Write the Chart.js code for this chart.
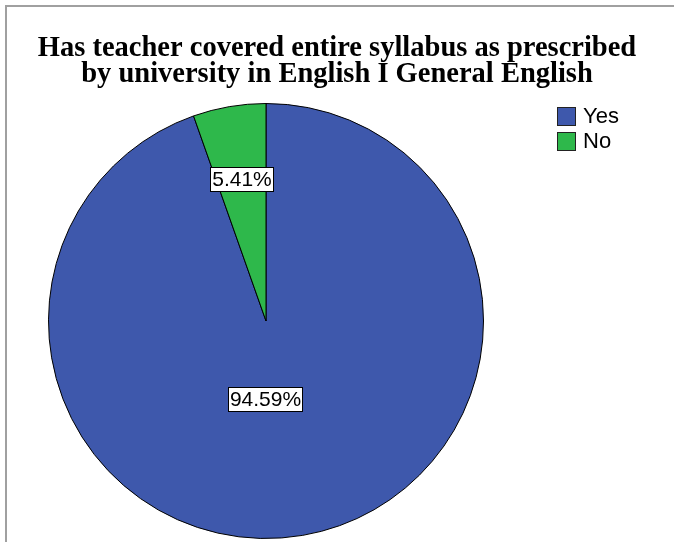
<!DOCTYPE html>
<html>
<head>
<meta charset="utf-8">
<script src="https://cdn.jsdelivr.net/npm/chart.js@4.4.0/dist/chart.umd.min.js"></script>
<style>
  body { margin: 0; background: #fff; }
  #wrap { position: relative; width: 674px; height: 542px; overflow: hidden; }
  #frame { position: absolute; left: 5px; top: 5px; width: 800px; height: 700px;
           border-left: 2px solid #a0a0a0; border-top: 2px solid #a0a0a0; }
  canvas { position: absolute; left: 0; top: 0; }
</style>
</head>
<body>
<div id="wrap">
  <div id="frame"></div>
  <canvas id="myChart" width="674" height="542"></canvas>
</div>
<script>
const chartTitle = ['Has teacher covered entire syllabus as prescribed', 'by university in English I General English'];
const answers = ['Yes', 'No'];
const counts = [35, 2];
const sliceColors = ['#3e58ac', '#2eb84b'];

// where the % boxes sit: t = share of the slice's sweep, r = share of the radius
const labelSpots = [{ t: 0.53, r: 0.363 }, { t: 0.5, r: 0.66 }];

// white boxed percentages on the slices
const percentLabels = {
    id: 'percentLabels',
    afterDatasetsDraw(chart) {
        const ctx = chart.ctx;
        const meta = chart.getDatasetMeta(0);
        const values = chart.data.datasets[0].data;
        const total = values.reduce((a, b) => a + b, 0);
        ctx.save();
        ctx.font = '21px "Liberation Sans", Arial, sans-serif';
        ctx.textAlign = 'center';
        ctx.textBaseline = 'middle';
        meta.data.forEach((arc, i) => {
            const p = arc.getProps(['x', 'y', 'startAngle', 'endAngle', 'outerRadius'], true);
            const spot = labelSpots[i];
            const a = p.startAngle + (p.endAngle - p.startAngle) * spot.t;
            const x = p.x + Math.cos(a) * p.outerRadius * spot.r;
            const y = p.y + Math.sin(a) * p.outerRadius * spot.r;
            const text = (values[i] / total * 100).toFixed(2) + '%';
            const w = Math.round(ctx.measureText(text).width + 4);
            const h = 25;
            const bx = Math.round(x - w / 2);
            const by = Math.round(y - h / 2);
            ctx.fillStyle = '#fff';
            ctx.fillRect(bx, by, w, h);
            ctx.strokeStyle = '#000';
            ctx.lineWidth = 1;
            ctx.strokeRect(bx + 0.5, by + 0.5, w - 1, h - 1);
            ctx.fillStyle = '#000';
            ctx.fillText(text, bx + w / 2, by + h / 2 + 1);
        });
        ctx.restore();
    }
};

// legend as a layout box on the right, so the title stays centred on the whole canvas
const sideLegend = {
    id: 'sideLegend',
    beforeInit(chart) {
        const box = {
            position: 'right',
            weight: 10,
            fullSize: false,
            options: {},
            width: 142,
            height: 0,
            isHorizontal() { return false; },
            getPadding() { return { top: 0, left: 0, right: 0, bottom: 0 }; },
            update(maxWidth, maxHeight) {
                this.width = 142;
                this.height = maxHeight;
            },
            draw() {
                const ctx = chart.ctx;
                const ds = chart.data.datasets[0];
                ctx.save();
                ctx.font = '22px "Liberation Sans", Arial, sans-serif';
                ctx.textBaseline = 'middle';
                ctx.textAlign = 'left';
                chart.data.labels.forEach((label, i) => {
                    const x = Math.round(this.left + 25);
                    const y = Math.round(this.top + 4 + i * 25);
                    ctx.fillStyle = ds.backgroundColor[i];
                    ctx.fillRect(x, y, 19, 19);
                    ctx.strokeStyle = '#222';
                    ctx.lineWidth = 1;
                    ctx.strokeRect(x + 0.5, y + 0.5, 18, 18);
                    ctx.fillStyle = '#000';
                    ctx.fillText(label, x + 26, y + 10);
                });
                ctx.restore();
            }
        };
        Chart.layouts.addBox(chart, box);
    }
};

var ctx = document.getElementById('myChart').getContext('2d');
new Chart(ctx, {
    type: 'pie',
    data: {
        labels: answers,
        datasets: [{
            data: counts,
            backgroundColor: sliceColors,
            borderColor: '#000',
            borderWidth: 1
        }]
    },
    options: {
        responsive: false,
        animation: false,
        layout: { padding: { top: 0, left: 0, right: 0, bottom: 3 } },
        plugins: {
            legend: { display: false },
            tooltip: { enabled: false },
            title: {
                display: true,
                text: chartTitle,
                color: '#000',
                font: { family: '"Liberation Serif", "Times New Roman", serif', size: 28.5, weight: 'bold', lineHeight: '26.5px' },
                padding: { top: 35, bottom: 15 }
            }
        }
    },
    plugins: [percentLabels, sideLegend]
});
</script>
</body>
</html>
